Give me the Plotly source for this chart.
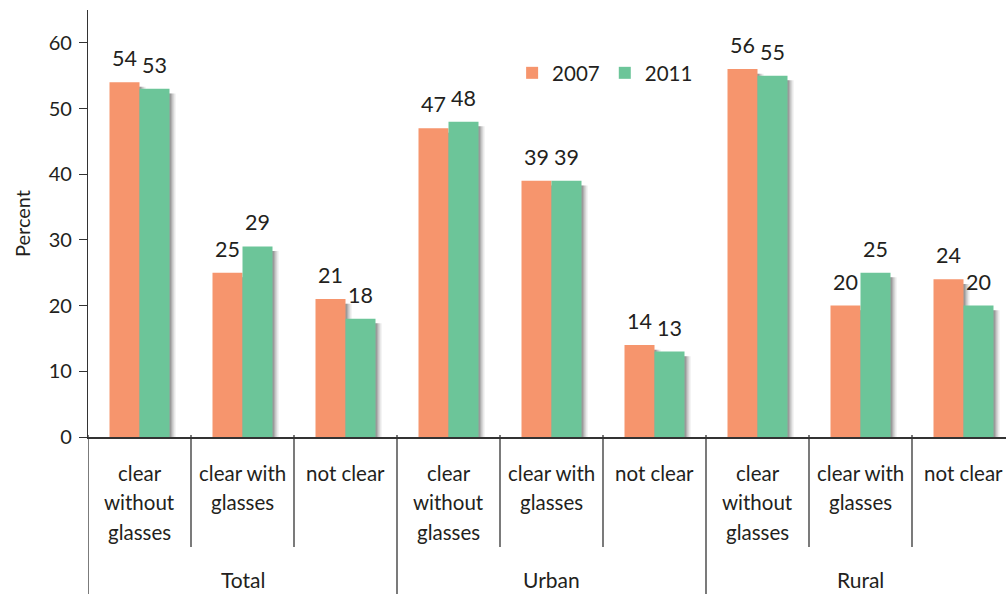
import plotly.graph_objects as go

# Vision survey results by area and year
groups = ["Total", "Urban", "Rural"]
subcats = [["clear", "without", "glasses"], ["clear with", "glasses"], ["not clear"]]
years = ["2007", "2011"]
values_2007 = [54, 25, 21, 47, 39, 14, 56, 20, 24]
values_2011 = [53, 29, 18, 48, 39, 13, 55, 25, 20]
y_ticks = [0, 10, 20, 30, 40, 50, 60]

colors = {"2007": "#F6956D", "2011": "#6CC599"}
FONT = "Lato, Open Sans, sans-serif"
TXT = "#231F20"

n = len(values_2007)
xs = list(range(n))
px_unit = 1 / 103.0           # one pixel in category units
bw = 30 * px_unit             # bar width
offsets = {"2007": -bw, "2011": 0.0}
series = {"2007": values_2007, "2011": values_2011}

fig = go.Figure()

# soft drop shadows behind the bars
for shift, alpha in [(6, 0.10), (4, 0.18), (2, 0.28)]:
    for yr in years:
        fig.add_trace(go.Bar(
            x=xs, y=[v - 0.7 for v in series[yr]],
            width=bw, offset=offsets[yr] + shift * px_unit,
            marker=dict(color=f"rgba(40,40,40,{alpha})", line=dict(width=0)),
            showlegend=False, hoverinfo="skip",
        ))

for yr in years:
    fig.add_trace(go.Bar(
        x=xs, y=series[yr], name=yr,
        width=bw, offset=offsets[yr],
        marker=dict(color=colors[yr], line=dict(width=0)),
    ))

annotations = []
# value labels above the bars
for yr in years:
    for i, v in enumerate(series[yr]):
        annotations.append(dict(
            x=i + offsets[yr] + bw / 2, y=v, xref="x", yref="y",
            text=str(v), showarrow=False, yanchor="bottom", yshift=9,
            font=dict(family=FONT, size=21.5, color=TXT),
        ))

plot_h = 427.0
def py(pix):
    return (437 - pix) / plot_h

line_y = [473, 502, 532]
for g in range(len(groups)):
    for s, lines in enumerate(subcats):
        idx = g * len(subcats) + s
        for k, t in enumerate(lines):
            annotations.append(dict(
                x=idx, y=py(line_y[k]), xref="x", yref="paper",
                text=t, showarrow=False, yanchor="middle",
                font=dict(family=FONT, size=20.5, color=TXT),
            ))
    annotations.append(dict(
        x=g * len(subcats) + 1, y=py(579), xref="x", yref="paper",
        text=groups[g], showarrow=False, yanchor="middle",
        font=dict(family=FONT, size=21, color=TXT),
    ))

shapes = []
line_style = dict(color="#333333", width=1.3)
for b in range(n + 1):
    xb = b - 0.5
    if b % len(subcats) == 0:
        shapes.append(dict(type="line", xref="x", yref="paper", x0=xb, x1=xb,
                           y0=2 / plot_h, y1=py(594), line=line_style))
    else:
        shapes.append(dict(type="line", xref="x", yref="paper", x0=xb, x1=xb,
                           y0=2 / plot_h, y1=py(547), line=line_style))

fig.update_layout(
    width=1006, height=594,
    margin=dict(l=88, r=0, t=10, b=157, pad=0),
    paper_bgcolor="white", plot_bgcolor="white",
    barmode="overlay",
    font=dict(family=FONT, color=TXT),
    showlegend=True,
    legend=dict(orientation="h", x=0.462, y=py(73), xanchor="left", yanchor="middle",
                font=dict(family=FONT, size=20.5, color=TXT), bgcolor="rgba(0,0,0,0)",
                traceorder="normal"),
    annotations=annotations,
    shapes=shapes,
    xaxis=dict(range=[-0.5, 8.5 - 9 * px_unit], showticklabels=False, ticks="",
               showline=True, linecolor="#333333", linewidth=1.5,
               showgrid=False, zeroline=False, fixedrange=True),
    yaxis=dict(range=[0, 65], tickvals=y_ticks, ticks="outside", ticklen=8,
               tickcolor="#333333", tickwidth=1.3,
               showline=True, linecolor="#333333", linewidth=1.3,
               showgrid=False, zeroline=False, ticklabelstandoff=3,
               tickfont=dict(family=FONT, size=20, color=TXT),
               title=dict(text="Percent", standoff=12,
                          font=dict(family=FONT, size=20, color=TXT))),
)

fig.write_html("out.html")
